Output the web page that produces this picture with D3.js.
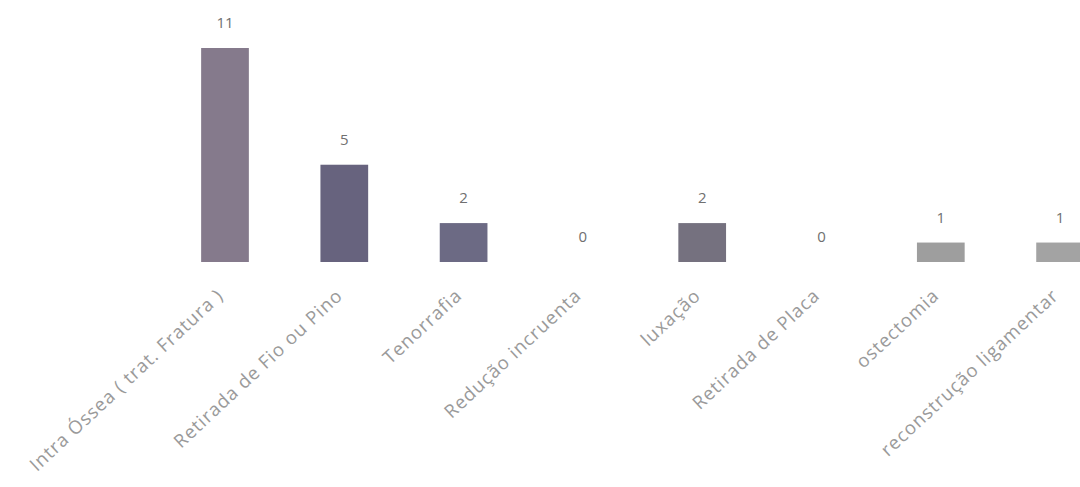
<!DOCTYPE html>
<html><head><meta charset="utf-8">
<script src="https://cdn.jsdelivr.net/npm/d3@7"></script>
<style>
html,body{margin:0;padding:0;background:#fff;}
svg{display:block;}
</style></head>
<body>
<svg id="chart" width="1080" height="487"></svg>
<script>
const categories = ["Intra Óssea ( trat. Fratura )", "Retirada de Fio ou Pino", "Tenorrafia", "Redução incruenta", "luxação", "Retirada de Placa", "ostectomia", "reconstrução ligamentar"];
const values = [11, 5, 2, 0, 2, 0, 1, 1];
const barColors = ["#857a8c", "#67637e", "#6c6a84", "#6c6a84", "#75717f", "#9c9c9c", "#9e9e9e", "#a3a3a3"];

const svg = d3.select("#chart");
const x = d3.scaleBand().domain(categories).range([165.35, 1119.75]).paddingInner(0.6).paddingOuter(0.3);
const y = d3.scaleLinear().domain([0, 11]).range([262, 48]);

svg.selectAll("rect.bar").data(values).join("rect")
  .attr("class", "bar")
  .attr("x", (d, i) => x(categories[i]))
  .attr("width", x.bandwidth())
  .attr("y", d => y(d))
  .attr("height", d => y(0) - y(d))
  .attr("fill", (d, i) => barColors[i]);

svg.selectAll("text.val").data(values).join("text")
  .attr("class", "val")
  .attr("x", (d, i) => x(categories[i]) + x.bandwidth() / 2)
  .attr("y", d => y(d) - 25)
  .attr("dy", "0.35em")
  .attr("text-anchor", "middle")
  .attr("font-family", "'Open Sans', sans-serif")
  .attr("font-size", 15)
  .attr("fill", "#707070")
  .text(d => d);

const axis = svg.append("g").attr("transform", `translate(0,${y(0) + 27})`)
  .call(d3.axisBottom(x).tickSize(0).tickPadding(0));
axis.select(".domain").remove();
axis.selectAll("text")
  .attr("font-family", "'Open Sans', sans-serif")
  .attr("font-size", 18.5)
  .attr("letter-spacing", "1px")
  .attr("fill", "#9a9a9a")
  .attr("text-anchor", "end")
  .attr("dy", "0.6em")
  .attr("transform", "translate(-8,0) rotate(-43)");
</script>
</body></html>
